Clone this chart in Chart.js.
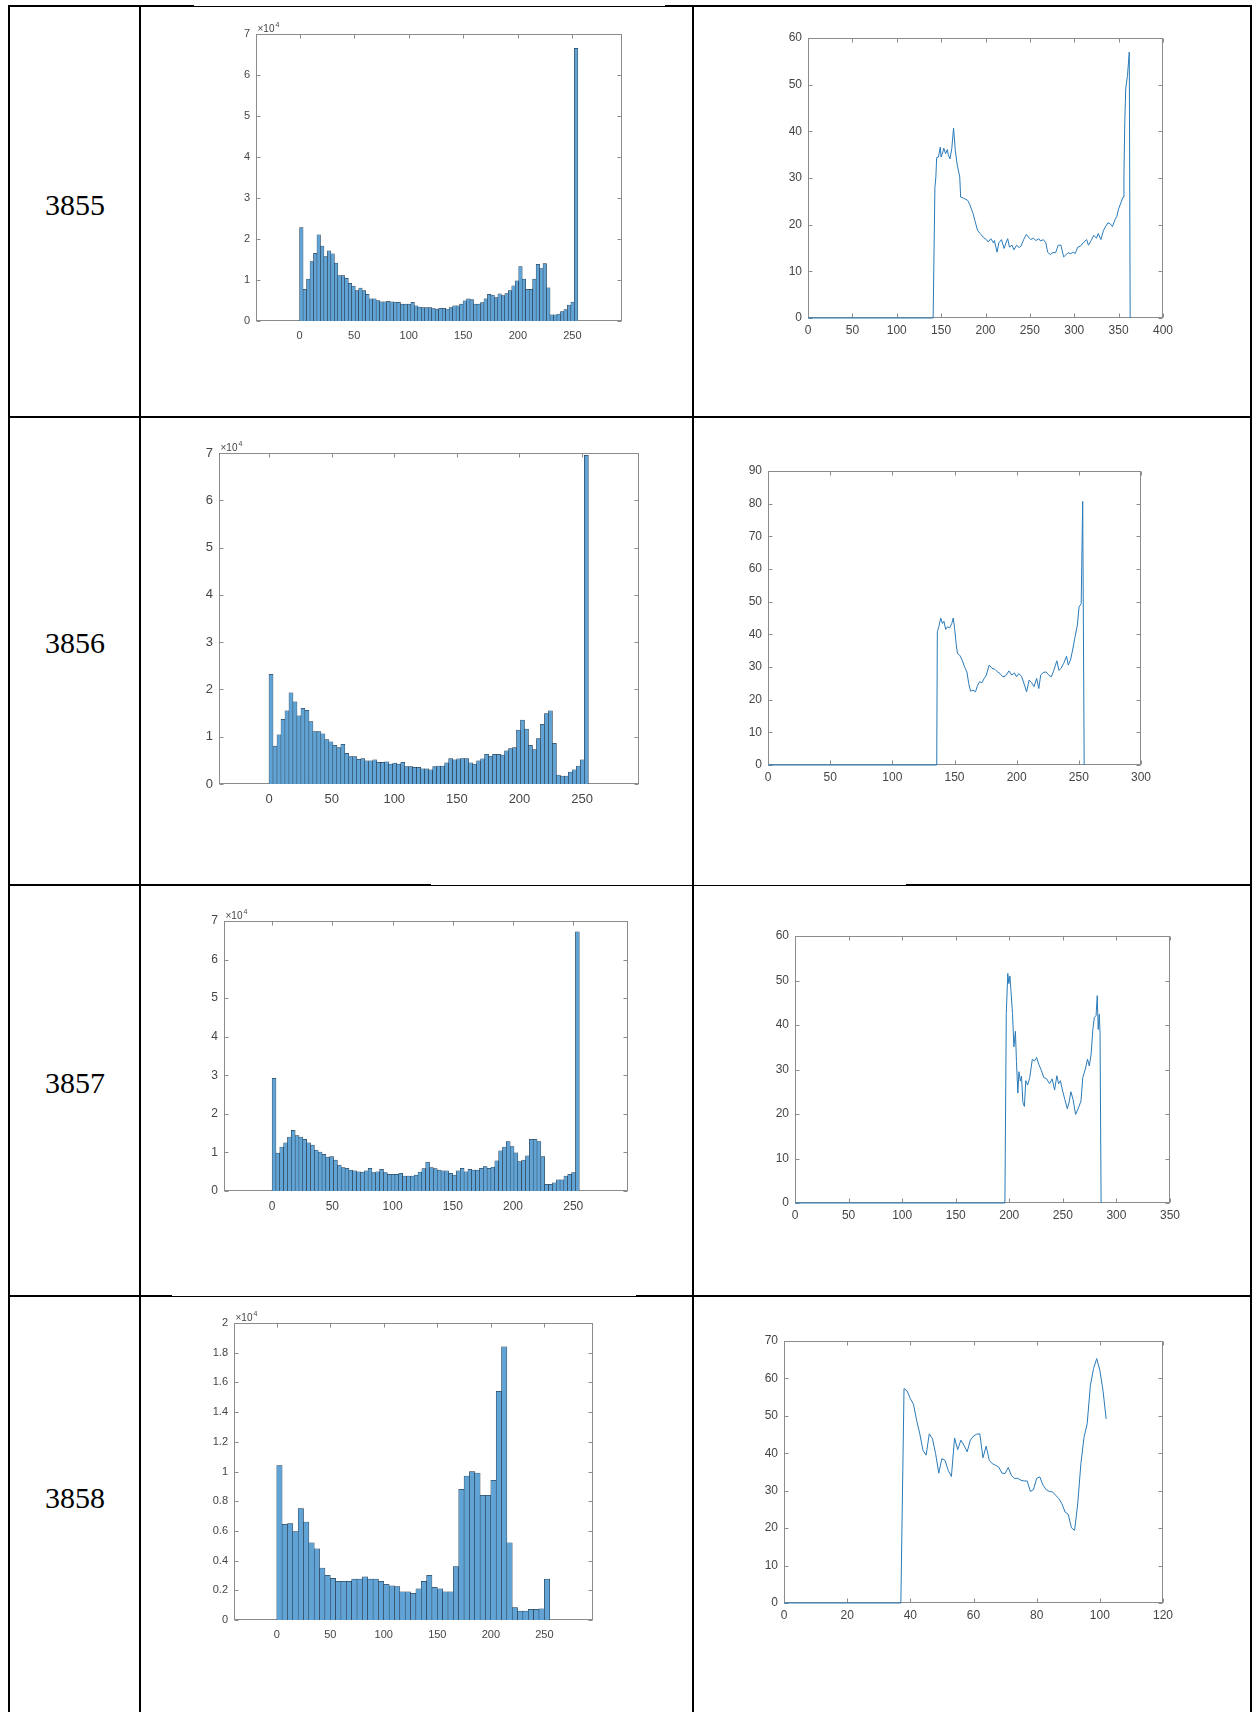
<!DOCTYPE html>
<html>
<head>
<meta charset="utf-8">
<script src="https://cdn.jsdelivr.net/npm/chart.js@4.4.1/dist/chart.umd.min.js"></script>
<style>
html, body { margin: 0; padding: 0; background: #fff; }
body { width: 1255px; height: 1712px; position: relative; overflow: hidden; }
.ln { position: absolute; background: #000; }
.lbl { position: absolute; left: 8px; width: 134px; text-align: center;
       font-family: "Liberation Serif", "Times New Roman", serif; font-size: 30px; line-height: 30px; color: #000; }
canvas { position: absolute; }
</style>
</head>
<body>

<!-- table frame -->
<div class="ln" style="left:8px;top:6px;width:2px;height:1706px"></div>
<div class="ln" style="left:139px;top:6px;width:2px;height:1706px"></div>
<div class="ln" style="left:692px;top:6px;width:2px;height:1706px"></div>
<div class="ln" style="left:1250px;top:6px;width:2px;height:1706px"></div>

<div class="ln" style="left:8px;top:5px;width:186px;height:2px"></div>
<div class="ln" style="left:194px;top:6px;width:471px;height:1px"></div>
<div class="ln" style="left:665px;top:5px;width:587px;height:2px"></div>

<div class="ln" style="left:8px;top:416px;width:1244px;height:2px"></div>

<div class="ln" style="left:8px;top:884px;width:423px;height:2px"></div>
<div class="ln" style="left:431px;top:885px;width:475px;height:1px"></div>
<div class="ln" style="left:906px;top:884px;width:346px;height:2px"></div>

<div class="ln" style="left:8px;top:1295px;width:164px;height:2px"></div>
<div class="ln" style="left:172px;top:1296px;width:464px;height:1px"></div>
<div class="ln" style="left:636px;top:1295px;width:616px;height:2px"></div>

<div class="lbl" style="top:190px">3855</div>
<div class="lbl" style="top:628px">3856</div>
<div class="lbl" style="top:1068px">3857</div>
<div class="lbl" style="top:1483px">3858</div>

<canvas id="h1"></canvas>
<canvas id="l1"></canvas>
<canvas id="h2"></canvas>
<canvas id="l2"></canvas>
<canvas id="h3"></canvas>
<canvas id="l3"></canvas>
<canvas id="h4"></canvas>
<canvas id="l4"></canvas>

<script>
// ---- data: histogram bin counts (bins span 0..255) ----
const hist1Counts = [
  22800, 7700, 10200, 14500, 16500, 21000, 18300, 15700, 17100, 16400,
  14100, 11100, 11100, 10400, 9200, 8500, 7400, 8000, 7400, 6500,
  5400, 5400, 5000, 4700, 4700, 4800, 4700, 4600, 4550, 4100,
  4100, 4100, 4550, 3700, 3400, 3300, 3300, 3300, 3000, 2900,
  3100, 3100, 2800, 3300, 3700, 3700, 4100, 4900, 5400, 5200,
  4100, 4100, 4500, 5400, 6500, 6300, 5700, 6600, 6200, 6700,
  7400, 8600, 9800, 13300, 10200, 7700, 7700, 10200, 13800, 12800,
  14000, 8100, 1500, 1500, 1700, 2300, 2800, 3900, 4600, 66500
];
const hist2Counts = [
  23200, 8000, 10400, 13700, 15500, 19300, 17400, 14400, 16000, 15600,
  13200, 11100, 11100, 10600, 9400, 8900, 8200, 7700, 8400, 6500,
  5800, 5800, 5200, 5400, 4900, 4900, 5100, 4600, 4600, 4700,
  4200, 4400, 4200, 4600, 3700, 3700, 3500, 3500, 3200, 3200,
  3000, 3700, 3800, 3800, 4500, 5400, 5100, 5300, 5400, 5400,
  4500, 4200, 4900, 5300, 6300, 5900, 6300, 6300, 6100, 7000,
  7500, 7700, 11400, 13500, 11600, 8200, 7300, 9600, 12600, 14900,
  15500, 8600, 1900, 1700, 1700, 2500, 3000, 3800, 5100, 69500
];
const hist3Counts = [
  29200, 9800, 11400, 12500, 14000, 15700, 14400, 14000, 13400, 12500,
  11900, 10600, 10100, 9500, 8800, 8900, 8000, 6700, 6100, 5900,
  5400, 5200, 5000, 4900, 5200, 5900, 4800, 5000, 5600, 4800,
  4300, 4300, 4300, 4600, 3900, 3900, 3900, 4100, 4900, 5800,
  7500, 6100, 5800, 5400, 5200, 5200, 4600, 4100, 5200, 5900,
  5000, 5600, 5400, 5400, 5900, 6300, 5900, 6200, 7800, 10400,
  11400, 12800, 11500, 9900, 7600, 8000, 9100, 13400, 13400, 12800,
  8900, 1700, 1700, 2100, 2900, 2900, 3900, 4300, 4800, 67200
];
const hist4Counts = [
  10400, 6450, 6500, 5950, 7500, 6600, 5200, 4800, 3500, 3000,
  2800, 2600, 2600, 2600, 2750, 2750, 2900, 2750, 2750, 2600,
  2400, 2300, 2250, 1900, 1900, 1800, 2100, 2600, 3000, 2200,
  2100, 1900, 1900, 3600, 8800, 9700, 10000, 9900, 8400, 8400,
  9400, 15400, 18400, 5200, 830, 600, 600, 720, 720, 760,
  2750
];
const histRange = [0, 255];

// ---- data: profile lines ----
const line1X = [
  0, 141, 143, 144, 145, 147, 149, 150, 152, 153,
  155, 157, 158, 160, 162, 164, 166, 168, 171, 172,
  175, 180, 182, 186, 188, 191, 194, 198, 201, 203,
  206, 209, 210, 213, 215, 218, 221, 223, 225, 227,
  230, 232, 235, 238, 240, 243, 246, 249, 251, 254,
  257, 260, 262, 265, 268, 270, 273, 276, 279, 282,
  285, 288, 290, 293, 296, 299, 301, 304, 307, 310,
  314, 316, 319, 322, 325, 327, 330, 333, 335, 338,
  341, 343, 346, 348, 350, 353, 355, 356, 357, 358,
  360, 362, 363
];
const line1Y = [
  0, 0, 28, 30, 34.4, 34.5, 36.6, 34.5, 35.6, 36.4,
  35.2, 36.1, 35, 34.1, 36.3, 40.7, 35.9, 33, 30.2, 25.9,
  25.7, 25.2, 24.4, 22.4, 20.9, 18.8, 18.1, 17.2, 16.8, 16.3,
  17, 16.1, 16.6, 14.1, 16.1, 16.8, 14.9, 16.1, 17, 15.2,
  15.6, 14.6, 15.6, 15.1, 15.4, 16.8, 17.9, 17.2, 16.8, 17.1,
  16.6, 17, 16.5, 16.8, 16.1, 14.1, 13.6, 14, 14, 15.6,
  15.6, 13.1, 13.4, 14, 13.8, 14.1, 13.8, 15.2, 15.4, 16.1,
  16.8, 15.6, 16.6, 17.7, 17.1, 18.1, 16.8, 18.8, 19.5, 20.4,
  20.1, 19.6, 21.1, 21.8, 23.4, 24.9, 25.9, 30.9, 42.4, 49.1,
  52, 57, 0
];
const line2X = [
  0, 135.7, 136.2, 137.4, 138.9, 140.3, 141.5, 142.9, 144.3, 146.1,
  147.8, 149, 150.1, 151.3, 152.4, 154.2, 156.2, 158.2, 160, 161.4,
  162.9, 164.9, 166.9, 168.4, 170.1, 172.1, 173.9, 175.6, 177.9, 180.2,
  182.5, 184.6, 186.6, 188.9, 191.2, 193.8, 196.1, 198.2, 199.9, 201.6,
  203.9, 206, 208, 210, 212, 214, 216.1, 217.8, 219.3, 221.3,
  223.6, 225.9, 227.9, 229.9, 232.3, 234, 235.7, 237.8, 240.1, 241.5,
  243.3, 245, 246.7, 248.8, 250.2, 251.9, 253.1, 254.3
];
const line2Y = [
  0, 0, 40.8, 42.3, 45, 43.3, 44, 41.5, 42.3, 42,
  43.3, 45, 41.8, 37.2, 34.1, 33.6, 32.1, 29.9, 28.5, 25,
  22.6, 22.9, 22.4, 24.2, 25.5, 25.2, 26.5, 27.5, 30.6, 29.6,
  29.3, 28.5, 28, 27, 27.3, 28.8, 27.5, 28.2, 27, 28,
  27.2, 24.8, 22.4, 26, 25.2, 24, 26.5, 23.4, 27.5, 28.3,
  28.5, 27.5, 27, 29, 31.9, 29, 29.6, 31.1, 33.3, 30.6,
  32.1, 35.2, 38.7, 42.8, 48.4, 49.4, 80.7, 0
];
const line3X = [
  0, 195.9, 197.2, 198.6, 199.6, 200.6, 201.6, 203, 204.3, 205.7,
  206.7, 208, 209, 210.4, 211.4, 212.7, 214.1, 215.4, 217.1, 219.1,
  221.5, 223.5, 225.5, 227.5, 229.9, 232.2, 234.9, 237.6, 240, 242.3,
  244.4, 246, 247.7, 249.4, 251.8, 254.1, 255.8, 257.5, 259.5, 261.9,
  264.6, 266.9, 268.6, 271, 273, 274.7, 276.4, 278, 279.4, 281,
  282.1, 283, 284, 284.7, 285.7
];
const line3Y = [
  0, 0, 42.6, 51.6, 49.3, 51, 47.5, 42.6, 35.1, 38.6,
  31.8, 24.7, 29.5, 27.4, 28.5, 22.6, 21.7, 27.5, 26.5, 28.2,
  32.3, 31.9, 32.7, 31.2, 29.8, 28.2, 27.9, 26.8, 27.9, 25.4,
  28.6, 26.8, 27.5, 25.6, 23.3, 21.2, 22.6, 25, 23.3, 19.9,
  21.4, 22.9, 28.2, 30.1, 32.3, 30.8, 33.5, 39, 41.7, 42.1,
  46.6, 39, 42.4, 38.3, 0
];
const line4X = [
  0, 37, 38, 39, 40, 41, 42, 43, 44, 45, 46, 47,
  48, 49, 50, 51, 52, 53, 54, 55, 56, 57,
  58, 59, 60, 61, 62, 63, 64, 65, 66, 67,
  68, 69, 70, 71, 72, 73, 74, 75, 76, 77,
  78, 79, 80, 81, 82, 83, 84, 85, 86, 87,
  88, 89, 90, 91, 92, 93, 94, 95, 96, 97,
  98, 99, 100, 101, 102
];
const line4Y = [
  0, 0, 57.3, 56.6, 54.6, 53.1, 48.8, 45.2, 40.8, 39.5, 45.2, 43.9,
  39.9, 34.7, 38.6, 38.1, 35.4, 33.8, 44.1, 41, 43.5, 42.1,
  40.4, 43.5, 44.6, 45.1, 45.2, 38.8, 41.9, 38.1, 37.2, 36.8,
  36.3, 34.7, 34.6, 36.2, 34.1, 33.3, 33.3, 32.8, 32.6, 32.6,
  29.8, 30.3, 33.3, 33.7, 31.5, 30.3, 29.8, 29.7, 28.8, 27.9,
  26.5, 24.3, 23.7, 20.1, 19.4, 26.5, 37.2, 44.3, 47.9, 58.1,
  62.6, 65.3, 62.2, 56.8, 49.2
];

// ---- styling ----
const AXIS_COLOR = '#8c8c8c';
const TEXT_COLOR = '#454545';
const BAR_FILL = 'rgb(96,163,212)';
const BAR_EDGE = '#1b2633';
const LINE_COLOR = '#2a7ab8';
const PL = 50, PT = 24, PR = 26, PB = 32;

Chart.defaults.font.family = '"Liberation Sans", Arial, sans-serif';
Chart.defaults.color = TEXT_COLOR;

// MATLAB-like box with inward ticks on all four sides
const matlabAxes = {
  id: 'matlabAxes',
  beforeDatasetsDraw(chart, args, opts) {
    const { ctx, chartArea: a, scales } = chart;
    const L = Math.round(a.left) + 0.5, T = Math.round(a.top) + 0.5;
    const R = Math.round(a.right) - 0.5, B = Math.round(a.bottom) - 0.5;
    ctx.save();
    ctx.strokeStyle = AXIS_COLOR;
    ctx.lineWidth = 1;
    ctx.strokeRect(L, T, R - L, B - T);
    const len = 4;
    ctx.beginPath();
    scales.x.ticks.forEach(t => {
      const px = Math.round(scales.x.getPixelForValue(t.value)) + 0.5;
      ctx.moveTo(px, B); ctx.lineTo(px, B - len);
      ctx.moveTo(px, T); ctx.lineTo(px, T + len);
    });
    scales.y.ticks.forEach(t => {
      const py = Math.round(scales.y.getPixelForValue(t.value)) + 0.5;
      ctx.moveTo(L, py); ctx.lineTo(L + len, py);
      ctx.moveTo(R, py); ctx.lineTo(R - len, py);
    });
    ctx.stroke();
    if (opts && opts.exponent) {
      ctx.fillStyle = TEXT_COLOR;
      ctx.textBaseline = 'alphabetic';
      ctx.font = '10px "Liberation Sans", Arial, sans-serif';
      ctx.fillText('\u00d710', L + 1, T - 3);
      const w = ctx.measureText('\u00d710').width;
      ctx.font = '7px "Liberation Sans", Arial, sans-serif';
      ctx.fillText(opts.exponent, L + 1 + w + 1, T - 8);
    }
    ctx.restore();
  }
};

function placeCanvas(id, box) {
  const c = document.getElementById(id);
  const w = (box.r - box.l) + PL + PR;
  const h = (box.b - box.t) + PT + PB;
  c.width = w; c.height = h;
  c.style.width = w + 'px'; c.style.height = h + 'px';
  c.style.left = (box.l - PL) + 'px';
  c.style.top = (box.t - PT) + 'px';
  return c;
}

function baseOptions(xs, ys, fontSize, exponent, xPad) {
  return {
    responsive: false,
    animation: false,
    devicePixelRatio: 1,
    layout: { padding: { left: 0, top: PT, right: PR, bottom: 0 } },
    plugins: { legend: { display: false }, tooltip: { enabled: false },
               matlabAxes: { exponent: exponent } },
    scales: {
      x: {
        type: 'linear', min: xs.min, max: xs.max,
        grid: { display: false, drawTicks: false }, border: { display: false },
        ticks: { stepSize: xs.step, includeBounds: false, padding: xPad, maxRotation: 0,
                 autoSkip: false, color: TEXT_COLOR, font: { size: fontSize } },
        afterFit: s => { s.height = PB; }
      },
      y: {
        type: 'linear', min: ys.min, max: ys.max,
        grid: { display: false, drawTicks: false }, border: { display: false },
        ticks: { stepSize: ys.step, includeBounds: false, padding: 6, autoSkip: false,
                 color: TEXT_COLOR, font: { size: fontSize },
                 callback: ys.format || (v => String(v)) },
        afterFit: s => { s.width = PL; }
      }
    }
  };
}

function histogram(id, box, counts, yMax, yStep, fontSize) {
  const canvas = placeCanvas(id, box);
  const n = counts.length;
  const width = (histRange[1] - histRange[0]) / n;
  const points = counts.map((c, i) => ({ x: histRange[0] + (i + 0.5) * width, y: c }));
  new Chart(canvas, {
    type: 'bar',
    data: { datasets: [{
      data: points,
      backgroundColor: BAR_FILL,
      borderColor: BAR_EDGE,
      borderWidth: 0.5,
      barPercentage: 1,
      categoryPercentage: 1
    }] },
    options: baseOptions(
      { min: -12, max: 267.5, step: 50 },
      { min: 0, max: yMax, step: yStep, format: v => String(+(v / 1e4).toFixed(1)) },
      fontSize, '4', 8),
    plugins: [matlabAxes]
  });
}

function profile(id, box, xsData, ysData, xMax, xStep, yMax, fontSize) {
  const canvas = placeCanvas(id, box);
  const points = xsData.map((x, i) => ({ x: x, y: ysData[i] }));
  new Chart(canvas, {
    type: 'scatter',
    data: { datasets: [{
      data: points,
      showLine: true,
      borderColor: LINE_COLOR,
      borderWidth: 1,
      pointRadius: 0,
      tension: 0,
      clip: false
    }] },
    options: baseOptions(
      { min: 0, max: xMax, step: xStep },
      { min: 0, max: yMax, step: 10 },
      fontSize, null, 5),
    plugins: [matlabAxes]
  });
}

histogram('h1', { l: 256, t: 34, r: 622, b: 321 }, hist1Counts, 70000, 10000, 11);
profile('l1', { l: 808, t: 38, r: 1163, b: 318 }, line1X, line1Y, 400, 50, 60, 12);
histogram('h2', { l: 219, t: 453, r: 639, b: 784 }, hist2Counts, 70000, 10000, 13);
profile('l2', { l: 768, t: 471, r: 1141, b: 765 }, line2X, line2Y, 300, 50, 90, 12);
histogram('h3', { l: 224, t: 921, r: 628, b: 1191 }, hist3Counts, 70000, 10000, 12);
profile('l3', { l: 795, t: 936, r: 1170, b: 1203 }, line3X, line3Y, 350, 50, 60, 12);
histogram('h4', { l: 234, t: 1323, r: 593, b: 1620 }, hist4Counts, 20000, 2000, 11);
profile('l4', { l: 784, t: 1341, r: 1163, b: 1603 }, line4X, line4Y, 120, 20, 70, 12);
</script>
</body>
</html>
